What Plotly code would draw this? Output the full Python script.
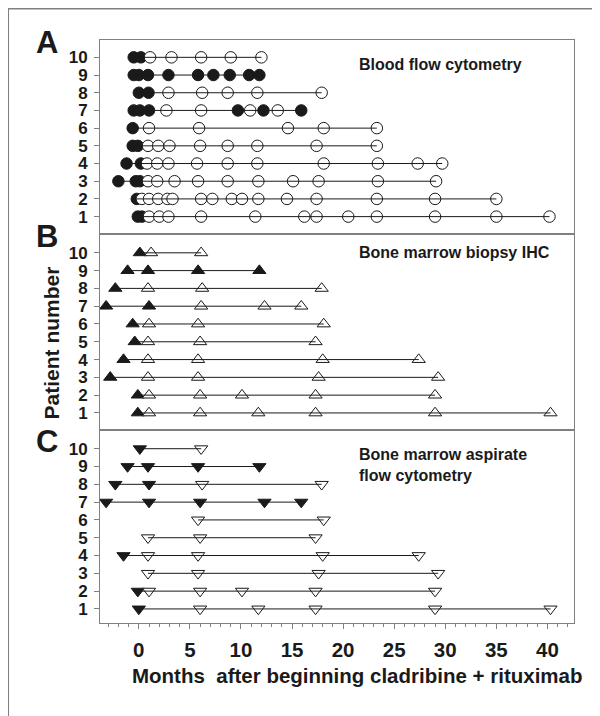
import plotly.graph_objects as go
from plotly.subplots import make_subplots

# ---------------- data (months after start), index 0 = patient 1 ----------------
patients = [1, 2, 3, 4, 5, 6, 7, 8, 9, 10]

# Panel A: Blood flow cytometry (filled = positive, open = negative)
blood_pos = [
    [-0.1, 0.3],
    [-0.2],
    [-2.0, -0.3, 0.1],
    [-1.2, 0.2],
    [-0.6, -0.1],
    [-0.6],
    [-0.5, 0.1, 1.0, 9.7, 12.2, 15.9],
    [0.0, 0.95],
    [-0.5, 0.0, 0.9, 2.9, 5.8, 7.3, 8.9, 10.8, 11.8],
    [-0.5, 0.2],
]
blood_neg = [
    [1.0, 2.0, 2.9, 6.1, 11.4, 16.2, 17.4, 20.5, 23.3, 29.0, 35.0, 40.2],
    [0.3, 1.0, 1.9, 2.8, 3.3, 6.1, 7.2, 9.1, 10.1, 11.7, 14.5, 17.4, 23.3, 29.0, 35.0],
    [0.9, 1.8, 3.5, 5.8, 8.7, 11.7, 15.1, 17.6, 23.4, 29.1],
    [0.8, 1.8, 2.9, 5.7, 8.7, 11.6, 18.1, 23.4, 27.3, 29.7],
    [0.9, 1.9, 3.0, 6.0, 8.7, 11.6, 17.4, 23.3],
    [1.0, 5.9, 14.6, 18.1, 23.3],
    [2.7, 6.1, 10.9, 13.6],
    [2.9, 6.2, 8.7, 11.6, 17.9],
    [],
    [1.1, 3.2, 6.1, 9.0, 12.0],
]

# Panel B: Bone marrow biopsy IHC
ihc_pos = [
    [-0.1],
    [-0.1],
    [-2.8],
    [-1.5],
    [-0.4],
    [-0.6],
    [-3.2, 1.0],
    [-2.3],
    [-1.1, 0.9, 5.8, 11.8],
    [0.1],
]
ihc_neg = [
    [1.0, 6.0, 11.7, 17.3, 29.0, 40.3],
    [1.0, 6.0, 10.1, 17.3, 29.0],
    [0.9, 5.8, 17.6, 29.3],
    [0.9, 5.8, 18.0, 27.4],
    [0.9, 6.0, 17.3],
    [1.0, 5.8, 18.1],
    [6.1, 12.3, 15.9],
    [0.9, 6.2, 17.9],
    [],
    [1.2, 6.1],
]

# Panel C: Bone marrow aspirate flow cytometry
asp_pos = [
    [0.0],
    [-0.1],
    [],
    [-1.5],
    [],
    [],
    [-3.2, 1.0, 6.0, 12.3, 15.9],
    [-2.3, 1.0],
    [-1.1, 0.9, 5.8, 11.8],
    [0.1],
]
asp_neg = [
    [6.0, 11.7, 17.3, 29.0, 40.3],
    [1.0, 6.0, 10.1, 17.3, 29.0],
    [0.9, 5.8, 17.6, 29.3],
    [0.9, 5.8, 18.0, 27.4],
    [0.9, 6.0, 17.3],
    [5.8, 18.1],
    [],
    [6.2, 17.9],
    [],
    [6.1],
]

panel_letters = ["A", "B", "C"]
panel_titles = ["Blood flow cytometry", "Bone marrow biopsy IHC",
                "Bone marrow aspirate<br>flow cytometry"]
x_ticks = [0, 5, 10, 15, 20, 25, 30, 35, 40]
y_ticks = [1, 2, 3, 4, 5, 6, 7, 8, 9, 10]

FONT = "Liberation Sans, Arial, Helvetica, sans-serif"
INK = "#1a1a1a"
FRAME = "#808080"

fig = make_subplots(rows=3, cols=1, shared_xaxes=True, vertical_spacing=0)

panels = [
    (blood_pos, blood_neg, "circle", 11.5),
    (ihc_pos, ihc_neg, "triangle-up", 11.5),
    (asp_pos, asp_neg, "triangle-down", 11.5),
]

for i, (pos, neg, sym, size) in enumerate(panels):
    row = i + 1
    fx, fy, ox, oy, lx, ly = [], [], [], [], [], []
    for p, ps, ns in zip(patients, pos, neg):
        for v in ps:
            fx.append(v); fy.append(p)
        for v in ns:
            ox.append(v); oy.append(p)
        allv = ps + ns
        if allv:
            lx += [min(allv), max(allv), None]
            ly += [p, p, None]
    fig.add_trace(go.Scatter(x=fx, y=fy, mode="markers",
                             marker=dict(symbol=sym, size=size, color=INK,
                                         line=dict(color=INK, width=1)),
                             showlegend=False, hoverinfo="x+y"), row=row, col=1)
    fig.add_trace(go.Scatter(x=ox, y=oy, mode="markers",
                             marker=dict(symbol=sym, size=size, color="white",
                                         line=dict(color=INK, width=1)),
                             showlegend=False, hoverinfo="x+y"), row=row, col=1)
    fig.add_trace(go.Scatter(x=lx, y=ly, mode="lines",
                             line=dict(color=INK, width=1),
                             showlegend=False, hoverinfo="skip"), row=row, col=1)

y_ranges = [[-0.01, 10.98], [0.02, 11.03], [0.21, 11.03]]
y_domains = [[0.6664, 1.0], [0.3304, 0.6664], [0.0, 0.3304]]

for i in range(3):
    yk = "yaxis" if i == 0 else f"yaxis{i+1}"
    fig.layout[yk].update(
        range=y_ranges[i], domain=y_domains[i],
        tickvals=y_ticks, ticktext=[str(v) for v in y_ticks],
        ticks="outside", ticklen=5, tickcolor=FRAME, tickwidth=1,
        ticklabelstandoff=3,
        showline=True, linecolor=FRAME, linewidth=1, mirror=True,
        showgrid=False, zeroline=False,
        tickfont=dict(family=FONT, size=17, color=INK, weight="bold"),
    )
    xk = "xaxis" if i == 0 else f"xaxis{i+1}"
    fig.layout[xk].update(
        range=[-3.8, 42.6],
        showline=True, linecolor=FRAME, linewidth=1, mirror=True,
        showgrid=False, zeroline=False,
    )
    if i < 2:
        fig.layout[xk].update(showticklabels=False, ticks="")

fig.layout["xaxis3"].update(
    tickvals=x_ticks, ticktext=[str(v) for v in x_ticks],
    ticks="outside", ticklen=5, tickcolor=FRAME, tickwidth=1,
    ticklabelstandoff=3,
    minor=dict(dtick=1, tick0=0, ticks="outside", ticklen=3,
               tickcolor=FRAME, tickwidth=1),
    tickfont=dict(family=FONT, size=20.5, color=INK, weight="bold"),
)

annotations = []
# panel letters
letter_y = [0.995, 0.6623, 0.3108]
for L, yy in zip(panel_letters, letter_y):
    annotations.append(dict(text=L, xref="paper", yref="paper", x=-0.111, y=yy,
                            xanchor="center", yanchor="middle", showarrow=False,
                            font=dict(family=FONT, size=31, color=INK, weight="bold")))
# panel titles
title_y = [9.59, 10.0, 9.1]
title_refs = ["y", "y2", "y3"]
for t, yy, yr in zip(panel_titles, title_y, title_refs):
    annotations.append(dict(text=t, xref="x", yref=yr, x=21.4, y=yy,
                            xanchor="left", yanchor="middle", align="left",
                            showarrow=False,
                            font=dict(family=FONT, size=16, color=INK, weight="bold")))
# axis titles
annotations.append(dict(text="Patient number", xref="paper", yref="paper",
                        x=-0.102, y=0.4806, textangle=-90,
                        xanchor="center", yanchor="middle", showarrow=False,
                        font=dict(family=FONT, size=21, color=INK, weight="bold")))
annotations.append(dict(text="Months\u00a0 after beginning cladribine + rituximab",
                        xref="paper", yref="paper", x=0.542, y=-0.0906,
                        xanchor="center", yanchor="middle", showarrow=False,
                        font=dict(family=FONT, size=20.5, color=INK, weight="bold")))

shapes = [
    dict(type="line", xref="paper", yref="paper", x0=-0.194, x1=1.08,
         y0=1.054, y1=1.054, line=dict(color=FRAME, width=2)),
    dict(type="line", xref="paper", yref="paper", x0=-0.194, x1=-0.194,
         y0=1.054, y1=-0.2, line=dict(color=FRAME, width=2)),
]

fig.update_layout(
    width=600, height=716,
    margin=dict(l=92, r=34, t=32, b=101),
    paper_bgcolor="white", plot_bgcolor="white",
    annotations=annotations, shapes=shapes,
    showlegend=False,
)

fig.write_html("out.html")
